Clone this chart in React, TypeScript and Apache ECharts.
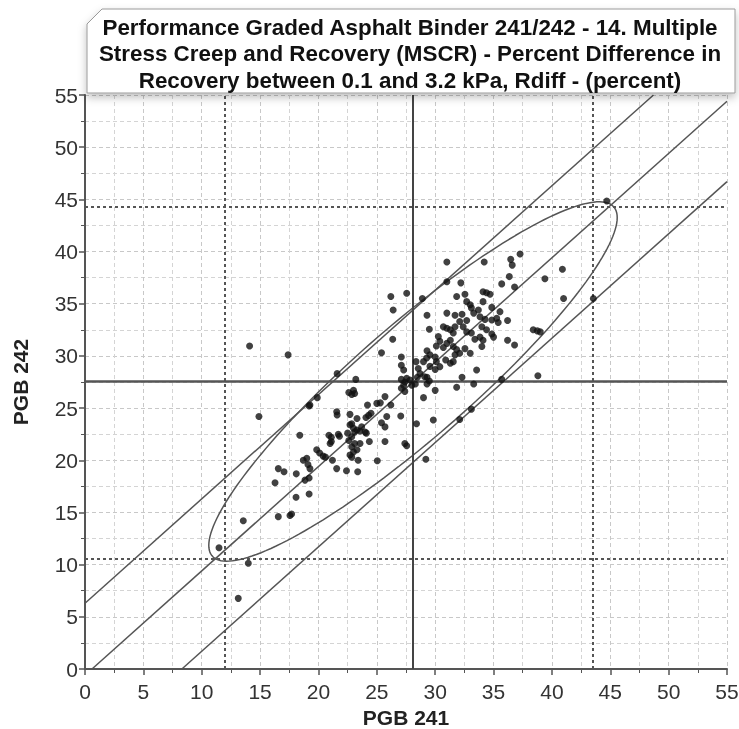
import React, { useEffect, useRef } from "react";
import * as echarts from "echarts";

const titleLines = [
  "Performance Graded Asphalt Binder 241/242 - 14. Multiple",
  "Stress Creep and Recovery (MSCR) - Percent Difference in",
  "Recovery between 0.1 and 3.2 kPa, Rdiff - (percent)",
];
const xName = "PGB 241";
const yName = "PGB 242";
const axisMin = 0;
const axisMax = 55;
const axisStep = 5;

// [PGB 241, PGB 242]
const points: number[][] = [
  [14.1, 30.95], [17.4, 30.1], [14.9, 24.2], [13.56, 14.2], [11.48, 11.62], [13.99, 10.13], [13.13, 6.77],
  [16.28, 17.85], [18.08, 16.45], [19.2, 16.77], [16.56, 14.6], [17.7, 14.85], [17.56, 14.7],
  [21.6, 28.3], [23.2, 27.75], [19.9, 26.0], [19.2, 25.2], [18.4, 22.4],
  [22.6, 26.5], [23.0, 26.7], [23.1, 26.4], [22.85, 26.3], [25.7, 26.1],
  [19.27, 25.3], [24.2, 25.3], [25.0, 25.45], [25.3, 25.5], [26.2, 25.3],
  [21.56, 24.65], [21.6, 24.34], [22.7, 24.4], [23.3, 24.0], [24.07, 24.1], [24.3, 24.3], [24.5, 24.5],
  [25.85, 24.2], [27.05, 24.25], [28.4, 23.5],
  [20.9, 22.4], [21.1, 22.2], [21.7, 22.5], [22.5, 22.6], [22.7, 23.4], [22.85, 23.5],
  [23.0, 23.06], [23.1, 22.7], [23.3, 22.9], [23.56, 22.8], [23.7, 23.2], [24.0, 22.7], [24.1, 22.6],
  [25.4, 23.6], [25.7, 23.2],
  [21.0, 21.6], [21.1, 21.8], [21.8, 22.3], [22.6, 21.9], [22.85, 22.25], [23.1, 21.6], [23.56, 21.6],
  [24.36, 21.8], [25.7, 21.8], [27.4, 21.6], [27.56, 21.4],
  [19.85, 21.0], [20.1, 20.7], [20.4, 20.4], [20.6, 20.3], [18.7, 20.0], [19.0, 20.2],
  [22.85, 21.3], [23.0, 20.8], [22.7, 20.5], [22.85, 20.3], [23.3, 21.0], [23.4, 20.0],
  [21.2, 20.0], [21.56, 19.2], [22.4, 19.0], [23.36, 18.9], [25.04, 19.96],
  [19.1, 19.6], [19.27, 19.2], [19.2, 18.3], [18.85, 18.1],
  [16.56, 19.2], [17.05, 18.9], [18.1, 18.7], [29.2, 20.1],
  [26.2, 35.7], [27.56, 36.0], [26.4, 34.4], [28.9, 35.5],
  [31.84, 35.7], [32.55, 35.9], [32.7, 35.2], [33.0, 34.9], [33.1, 34.6], [33.3, 34.1],
  [29.3, 33.9], [31.0, 34.1], [31.7, 33.9], [32.3, 34.0], [32.7, 33.4],
  [29.5, 32.55], [30.7, 32.8], [31.0, 32.65], [31.3, 32.5], [31.55, 32.2], [31.7, 32.8],
  [32.1, 33.3], [32.4, 32.8], [32.7, 32.3], [33.1, 32.2], [33.4, 31.6],
  [26.36, 31.6], [25.4, 30.3],
  [30.27, 31.85], [30.4, 31.4], [30.1, 30.95], [30.7, 30.8], [31.0, 31.2], [31.3, 31.5],
  [31.55, 30.9], [31.84, 30.6], [31.7, 30.1], [32.1, 30.25], [32.55, 30.7],
  [29.3, 30.5], [29.55, 30.1], [29.27, 29.8], [29.0, 29.45],
  [30.0, 29.9], [30.1, 29.45], [30.4, 28.97], [30.0, 28.7], [29.55, 29.0],
  [30.9, 29.6], [31.3, 29.3], [31.55, 29.45],
  [28.36, 29.45], [28.55, 28.8], [28.7, 28.3], [29.1, 28.0], [29.3, 27.95],
  [27.1, 29.9], [27.1, 29.1], [27.3, 28.65], [33.55, 28.65],
  [27.1, 27.75], [27.4, 27.5], [27.56, 27.85], [27.85, 27.7], [28.3, 27.3], [28.0, 27.2], [27.3, 27.2],
  [27.1, 26.9], [27.4, 26.6], [28.47, 27.95], [29.3, 27.3], [29.5, 27.6],
  [32.3, 27.95], [31.84, 27.0], [30.0, 26.7], [29.0, 26.0], [33.3, 27.3],
  [32.1, 23.9], [33.1, 24.9], [29.84, 23.86],
  [31.0, 39.0], [34.2, 39.0], [36.47, 39.25], [36.6, 38.7], [37.27, 39.77], [40.9, 38.3],
  [31.0, 37.1], [32.2, 37.0], [36.35, 37.6], [35.7, 36.9], [36.8, 36.6], [39.4, 37.4], [41.0, 35.5], [43.55, 35.5],
  [34.1, 36.15], [34.4, 36.06], [34.7, 35.9], [34.1, 35.2], [34.85, 34.65], [35.55, 34.24], [33.7, 34.4],
  [33.84, 33.76], [34.27, 33.5], [34.85, 33.44], [35.27, 33.6], [35.4, 33.2], [36.2, 33.4],
  [34.0, 32.8], [34.4, 32.5], [34.85, 32.1], [35.0, 31.8], [34.1, 31.5], [33.84, 31.8], [34.0, 30.9],
  [36.2, 31.5], [36.8, 31.05], [38.4, 32.5], [38.75, 32.4], [39.0, 32.3], [38.8, 28.1], [35.7, 27.75],
  [44.7, 44.85], [33.0, 30.25],
];

const meanX = 28.1;
const meanY = 27.6;
const limitsX = [12.0, 43.5];
const limitsY = [10.6, 44.25];
const diagOffsets = [6.3, -0.6, -8.3];
const ellipseCenter = [28.1, 27.55];
const ellipseSemiAxes = [24, 5.15];
const ellipseAngleDeg = 44.5;

function diagLine(d: number): number[][] {
  const start = d >= 0 ? [axisMin, axisMin + d] : [axisMin - d, axisMin];
  const end = d >= 0 ? [axisMax - d, axisMax] : [axisMax, axisMax + d];
  return [start, end];
}

function ellipsePoints(): number[][] {
  const out: number[][] = [];
  const th = (ellipseAngleDeg * Math.PI) / 180;
  const [a, b] = ellipseSemiAxes;
  for (let i = 0; i <= 180; i++) {
    const t = (i / 180) * Math.PI * 2;
    const u = a * Math.cos(t);
    const v = b * Math.sin(t);
    out.push([
      ellipseCenter[0] + u * Math.cos(th) - v * Math.sin(th),
      ellipseCenter[1] + u * Math.sin(th) + v * Math.cos(th),
    ]);
  }
  return out;
}

const LINE = "#555";

export default function App() {
  const ref = useRef<HTMLDivElement>(null);
  useEffect(() => {
    if (!ref.current) return;
    const chart = echarts.init(ref.current, undefined, { renderer: "svg" });
    const axisCommon = {
      type: "value" as const,
      min: axisMin,
      max: axisMax,
      interval: axisStep,
      nameLocation: "middle" as const,
      nameTextStyle: { fontFamily: "Liberation Sans", fontWeight: "bold", fontSize: 21, color: "#222" },
      axisLine: { show: true, onZero: false, lineStyle: { color: LINE, width: 2 } },
      axisTick: { show: true, length: 6, lineStyle: { color: LINE, width: 1.5 } },
      minorTick: { show: true, splitNumber: 2, length: 4, lineStyle: { color: LINE, width: 1 } },
      splitLine: { show: true, lineStyle: { color: "#c8c8c8", type: [4, 3], width: 1 } },
      minorSplitLine: { show: true, lineStyle: { color: "#d4d4d4", type: [4, 3], width: 1 } },
    };
    const diagSeries = diagOffsets.map((d) => ({
      type: "line",
      data: diagLine(d),
      symbol: "none",
      silent: true,
      lineStyle: { color: LINE, width: 1.5 },
      z: 2,
    }));
    chart.setOption({
      animation: false,
      grid: { left: 85, right: 12, top: 95, bottom: 60, containLabel: false, outerBoundsMode: "none" },
      xAxis: {
        ...axisCommon,
        name: xName,
        nameGap: 35,
        axisLabel: { margin: 12, fontSize: 21, fontFamily: "Liberation Sans", color: "#333" },
      },
      yAxis: {
        ...axisCommon,
        name: yName,
        nameGap: 54,
        axisLabel: { margin: 7, fontSize: 21, fontFamily: "Liberation Sans", color: "#333" },
      },
      graphic: [
        {
          type: "polygon",
          z: 100,
          shape: { points: [[87, 24], [102, 9], [735, 9], [735, 93], [87, 93]] },
          style: {
            fill: "#fff",
            stroke: "#9a9a9a",
            lineWidth: 1,
            shadowBlur: 8,
            shadowOffsetY: 4,
            shadowColor: "rgba(0,0,0,0.25)",
          },
        },
        ...titleLines.map((t, i) => ({
          type: "text",
          z: 101,
          x: 410,
          y: 27 + i * 26.5,
          scaleX: 1.12,
          scaleY: 1.12,
          style: {
            text: t,
            fontFamily: "Liberation Sans",
            fontWeight: "bold",
            fontSize: 20,
            fill: "#111",
            align: "center",
            verticalAlign: "middle",
          },
        })),
      ],
      series: [
        ...diagSeries,
        {
          type: "line",
          data: ellipsePoints(),
          symbol: "none",
          silent: true,
          lineStyle: { color: LINE, width: 1.5 },
          z: 3,
          markLine: {
            silent: true,
            symbol: "none",
            label: { show: false },
            data: [
              { xAxis: meanX, lineStyle: { color: "#444", width: 2, type: "solid" } },
              { yAxis: meanY, lineStyle: { color: "#555", width: 2.5, type: "solid" } },
              ...limitsX.map((v) => ({ xAxis: v, lineStyle: { color: "#555", width: 2, type: [3, 3] } })),
              ...limitsY.map((v) => ({ yAxis: v, lineStyle: { color: "#555", width: 2, type: [3, 3] } })),
            ],
          },
        },
        {
          type: "scatter",
          data: points,
          symbolSize: 7,
          itemStyle: { color: "#111" },
          z: 5,
        },
      ],
    });
    return () => chart.dispose();
  }, []);
  return (
    <div
      ref={ref}
      style={{ position: "fixed", left: 0, top: 0, width: 739, height: 729 }}
    />
  );
}
